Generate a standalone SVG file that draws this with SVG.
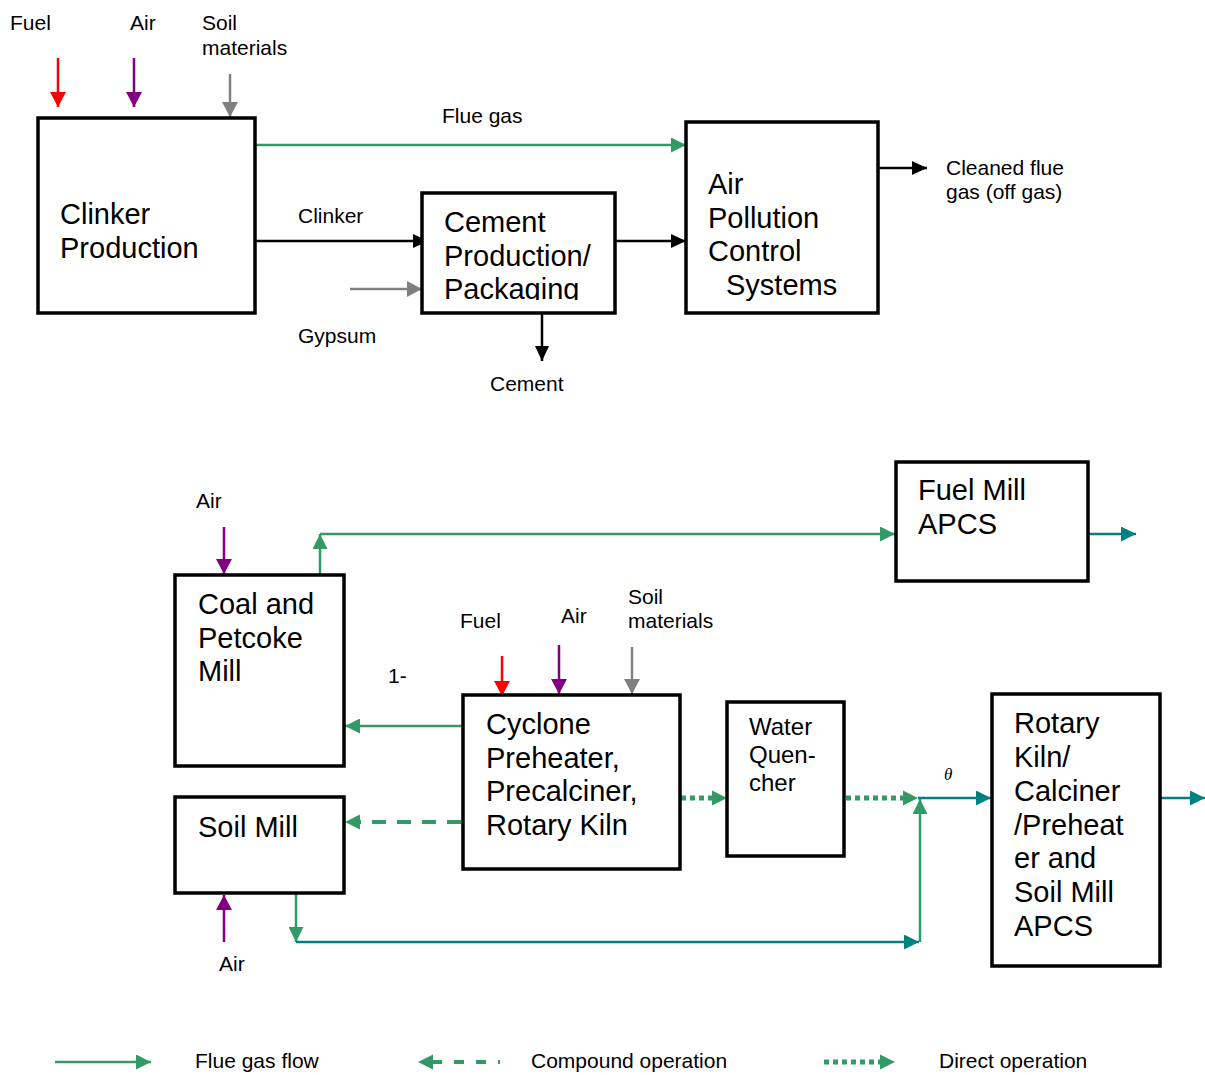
<svg xmlns="http://www.w3.org/2000/svg" width="1205" height="1075" viewBox="0 0 1205 1075">
<style>
.box{fill:#fff;stroke:#000;stroke-width:3.5}
.t{font-family:"Liberation Sans",Arial,sans-serif;fill:#000}
.big{font-size:29px}
.lab{font-size:21px}
.mid{font-size:24px}
.g{stroke:#339966;stroke-width:2.5;fill:none}
.tl{stroke:#008080;stroke-width:2.5;fill:none}
.k{stroke:#000;stroke-width:2.5;fill:none}
.r{stroke:#ff0000;stroke-width:2.5;fill:none}
.p{stroke:#800080;stroke-width:2.5;fill:none}
.gr{stroke:#808080;stroke-width:2.5;fill:none}
.dash{stroke:#339966;stroke-width:4;fill:none;stroke-dasharray:14 11}
.dot{stroke:#339966;stroke-width:5;fill:none;stroke-dasharray:5 4}
</style>
<defs>
<marker id="mk" markerUnits="userSpaceOnUse" markerWidth="15" markerHeight="14" refX="15" refY="7" orient="auto"><path d="M0,0 L15,7 L0,14 z" fill="#000"/></marker>
<marker id="mr" markerUnits="userSpaceOnUse" markerWidth="15" markerHeight="16" refX="15" refY="8" orient="auto"><path d="M0,0 L15,8 L0,16 z" fill="#ff0000"/></marker>
<marker id="mp" markerUnits="userSpaceOnUse" markerWidth="15" markerHeight="16" refX="15" refY="8" orient="auto"><path d="M0,0 L15,8 L0,16 z" fill="#800080"/></marker>
<marker id="mgr" markerUnits="userSpaceOnUse" markerWidth="15" markerHeight="16" refX="15" refY="8" orient="auto"><path d="M0,0 L15,8 L0,16 z" fill="#808080"/></marker>
<marker id="mg" markerUnits="userSpaceOnUse" markerWidth="15" markerHeight="15" refX="15" refY="7.5" orient="auto"><path d="M0,0 L15,7.5 L0,15 z" fill="#339966"/></marker>
<marker id="mt" markerUnits="userSpaceOnUse" markerWidth="15" markerHeight="15" refX="15" refY="7.5" orient="auto"><path d="M0,0 L15,7.5 L0,15 z" fill="#008080"/></marker>
<clipPath id="cpc"><rect x="424" y="195" width="189" height="105"/></clipPath>
</defs>

<g id="connectors">
<line class="r" x1="58" y1="58" x2="58" y2="107" marker-end="url(#mr)"/>
<line class="p" x1="134" y1="58" x2="134" y2="107" marker-end="url(#mp)"/>
<line class="gr" x1="230" y1="74" x2="230" y2="117" marker-end="url(#mgr)"/>
<line class="g" x1="256" y1="145" x2="686" y2="145" marker-end="url(#mg)"/>
<line class="k" x1="256" y1="241" x2="428" y2="241" marker-end="url(#mk)"/>
<line class="gr" x1="350" y1="289" x2="422" y2="289" marker-end="url(#mgr)"/>
<line class="k" x1="542" y1="314" x2="542" y2="361" marker-end="url(#mk)"/>
<line class="k" x1="616" y1="241" x2="686" y2="241" marker-end="url(#mk)"/>
<line class="k" x1="879" y1="168" x2="927" y2="168" marker-end="url(#mk)"/>

<line class="p" x1="224" y1="527" x2="224" y2="574" marker-end="url(#mp)"/>
<line class="g" x1="320" y1="575" x2="320" y2="534" marker-end="url(#mg)"/>
<line class="g" x1="320" y1="534" x2="895" y2="534" marker-end="url(#mg)"/>
<line class="tl" x1="1089" y1="534" x2="1136" y2="534" marker-end="url(#mt)"/>
<line class="g" x1="463" y1="726" x2="345" y2="726" marker-end="url(#mg)"/>
<line class="r" x1="502" y1="656" x2="502" y2="696" marker-end="url(#mr)"/>
<line class="p" x1="559" y1="645" x2="559" y2="694" marker-end="url(#mp)"/>
<line class="gr" x1="632" y1="647" x2="632" y2="694" marker-end="url(#mgr)"/>
<line class="dot" x1="681" y1="798" x2="713" y2="798"/>
<path d="M712,790.5 L727,798 L712,805.5 z" fill="#339966"/>
<line class="dot" x1="846" y1="798" x2="904" y2="798"/>
<path d="M903,790.5 L918,798 L903,805.5 z" fill="#339966"/>
<line class="tl" x1="918" y1="798" x2="991" y2="798" marker-end="url(#mt)"/>
<line class="g" x1="920" y1="942" x2="920" y2="799" marker-end="url(#mg)"/>
<line class="dash" x1="461" y1="822" x2="358" y2="822"/>
<path d="M360,814.5 L345,822 L360,829.5 z" fill="#339966"/>
<line class="p" x1="224" y1="942" x2="224" y2="895" marker-end="url(#mp)"/>
<line class="g" x1="296" y1="894" x2="296" y2="942" marker-end="url(#mg)"/>
<line class="tl" x1="296" y1="942" x2="919" y2="942" marker-end="url(#mt)"/>
<line class="tl" x1="1161" y1="798" x2="1205" y2="798" marker-end="url(#mt)"/>
</g>

<g id="labels">
<text class="t lab" x="10" y="30">Fuel</text>
<text class="t lab" x="130" y="30">Air</text>
<text class="t lab" x="202" y="30">Soil</text>
<text class="t lab" x="202" y="55">materials</text>
<text class="t lab" x="442" y="123">Flue gas</text>
<text class="t lab" x="298" y="223">Clinker</text>
<text class="t lab" x="298" y="343">Gypsum</text>
<text class="t lab" x="490" y="391">Cement</text>
<text class="t lab" x="946" y="175">Cleaned flue</text>
<text class="t lab" x="946" y="199">gas (off gas)</text>
<text class="t lab" x="196" y="508">Air</text>
<text class="t lab" x="388" y="683">1-</text>
<text class="t lab" x="460" y="628">Fuel</text>
<text class="t lab" x="561" y="623">Air</text>
<text class="t lab" x="628" y="604">Soil</text>
<text class="t lab" x="628" y="628">materials</text>
<text x="944" y="780" style="font-family:'Liberation Serif','Times New Roman',serif;font-style:italic;font-size:17px">θ</text>
<text class="t lab" x="219" y="971">Air</text>
</g>

<g id="clinker-production">
<rect class="box" x="38" y="118" width="217" height="195"/>
<text class="t big" x="60" y="224">Clinker</text>
<text class="t big" x="60" y="258">Production</text>
</g>
<g id="cement-production">
<rect class="box" x="422" y="193" width="193" height="120"/>
<g clip-path="url(#cpc)">
<text class="t big" x="444" y="232">Cement</text>
<text class="t big" x="444" y="266">Production/</text>
<text class="t big" x="444" y="299">Packaging</text>
</g>
</g>
<g id="apcs">
<rect class="box" x="686" y="122" width="192" height="191"/>
<text class="t big" x="708" y="194">Air</text>
<text class="t big" x="708" y="228">Pollution</text>
<text class="t big" x="708" y="261">Control</text>
<text class="t big" x="726" y="295">Systems</text>
</g>
<g id="coal-mill">
<rect class="box" x="175" y="575" width="169" height="191"/>
<text class="t big" x="198" y="614">Coal and</text>
<text class="t big" x="198" y="648">Petcoke</text>
<text class="t big" x="198" y="681">Mill</text>
</g>
<g id="fuel-mill-apcs">
<rect class="box" x="896" y="462" width="192" height="119"/>
<text class="t big" x="918" y="500">Fuel Mill</text>
<text class="t big" x="918" y="534">APCS</text>
</g>
<g id="cyclone">
<rect class="box" x="463" y="695" width="217" height="174"/>
<text class="t big" x="486" y="734">Cyclone</text>
<text class="t big" x="486" y="768">Preheater,</text>
<text class="t big" x="486" y="801">Precalciner,</text>
<text class="t big" x="486" y="835">Rotary Kiln</text>
</g>
<g id="water-quencher">
<rect class="box" x="727" y="702" width="117" height="154"/>
<text class="t mid" x="749" y="735">Water</text>
<text class="t mid" x="749" y="763">Quen-</text>
<text class="t mid" x="749" y="791">cher</text>
</g>
<g id="soil-mill">
<rect class="box" x="175" y="797" width="169" height="96"/>
<text class="t big" x="198" y="837">Soil Mill</text>
</g>
<g id="rotary-kiln-apcs">
<rect class="box" x="992" y="694" width="168" height="272"/>
<text class="t big" x="1014" y="733">Rotary</text>
<text class="t big" x="1014" y="767">Kiln/</text>
<text class="t big" x="1014" y="801">Calciner</text>
<text class="t big" x="1014" y="835">/Preheat</text>
<text class="t big" x="1014" y="868">er and</text>
<text class="t big" x="1014" y="902">Soil Mill</text>
<text class="t big" x="1014" y="936">APCS</text>
</g>

<g id="legend">
<line class="g" x1="55" y1="1062" x2="151" y2="1062" marker-end="url(#mg)"/>
<text class="t lab" x="195" y="1068">Flue gas flow</text>
<path d="M433,1054.5 L418,1062 L433,1069.5 z" fill="#339966"/>
<line class="dash" x1="432" y1="1062" x2="500" y2="1062" style="stroke-dasharray:10 12"/>
<text class="t lab" x="531" y="1068">Compound operation</text>
<line class="dot" x1="824" y1="1062" x2="882" y2="1062"/>
<path d="M880,1054.5 L895,1062 L880,1069.5 z" fill="#339966"/>
<text class="t lab" x="939" y="1068">Direct operation</text>
</g>
</svg>
